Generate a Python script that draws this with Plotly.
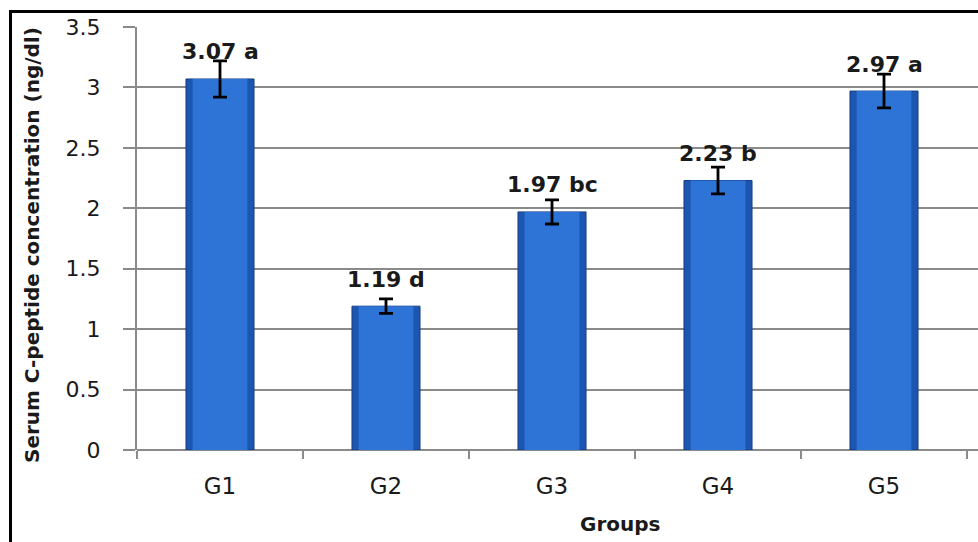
import plotly.graph_objects as go

# Serum C-peptide by treatment group
groups = ["G1", "G2", "G3", "G4", "G5"]
means = [3.07, 1.19, 1.97, 2.23, 2.97]
errors = [0.15, 0.06, 0.10, 0.11, 0.14]
letters = ["a", "d", "bc", "b", "a"]
y_ticks = [0, 0.5, 1, 1.5, 2, 2.5, 3, 3.5]
y_tick_text = ["0", "0.5", "1", "1.5", "2", "2.5", "3", "3.5"]

W, H = 978, 542
L, R, T, B = 137, 0, 27, 92
plot_w = W - L - R
plot_h = H - T - B

def px_x(p):
    return (p - L) / plot_w

def px_y(p):
    return (H - B - p) / plot_h

GRID = "#8a8a8a"
TXT = "#1a1a1a"

fig = go.Figure()

# outer bar body (darker rim)
fig.add_trace(go.Bar(
    x=groups, y=means, width=0.41,
    marker=dict(color="#1d56b0", line=dict(color="#173f80", width=1)),
    hoverinfo="skip", showlegend=False,
))
# lighter inner face
fig.add_trace(go.Bar(
    x=groups, y=means, width=0.33,
    marker=dict(color="#2e74d6", line=dict(width=0)),
    hoverinfo="skip", showlegend=False,
))
# error bars on top of the bars
fig.add_trace(go.Scatter(
    x=groups, y=means, mode="markers",
    marker=dict(size=1, color="rgba(0,0,0,0)"),
    error_y=dict(type="data", array=errors, color="#000000",
                 thickness=2.8, width=7),
    hoverinfo="skip", showlegend=False,
))

annotations = []
for g, v, s in zip(groups, means, letters):
    annotations.append(dict(
        x=g, y=v, xref="x", yref="y", text=f"{v:.2f} {s}",
        showarrow=False, yshift=27, xanchor="center", yanchor="middle",
        font=dict(family="DejaVu Sans", size=22, color=TXT, weight="bold"),
    ))

annotations.append(dict(
    x=px_x(32), y=px_y(245), xref="paper", yref="paper",
    xanchor="center", yanchor="middle",
    text="Serum C-peptide concentration (ng/dl)", textangle=-90,
    showarrow=False,
    font=dict(family="DejaVu Sans", size=20, color=TXT, weight="bold"),
))
annotations.append(dict(
    x=px_x(620), y=px_y(524), xref="paper", yref="paper",
    xanchor="center", yanchor="middle",
    text="Groups", showarrow=False,
    font=dict(family="DejaVu Sans", size=20, color=TXT, weight="bold"),
))

fig.update_layout(
    width=W, height=H,
    margin=dict(l=L, r=R, t=T, b=B, autoexpand=False),
    paper_bgcolor="white", plot_bgcolor="white",
    barmode="overlay",
    annotations=annotations,
    shapes=[
        dict(type="line", xref="paper", yref="paper",
             x0=px_x(10.5), x1=px_x(10.5), y0=px_y(11), y1=px_y(560),
             line=dict(color="black", width=3)),
        dict(type="line", xref="paper", yref="paper",
             x0=px_x(9), x1=px_x(990), y0=px_y(11.5), y1=px_y(11.5),
             line=dict(color="black", width=3)),
    ],
    xaxis=dict(
        range=[-0.5, -0.5 + plot_w / 166.0],
        tickson="boundaries", ticks="outside", ticklen=8,
        tickcolor=GRID, tickwidth=2,
        showgrid=False, showline=False, zeroline=False,
        tickfont=dict(family="DejaVu Sans", size=23, color=TXT),
        ticklabelstandoff=20,
    ),
    yaxis=dict(
        range=[0, 3.5], tickvals=y_ticks, ticktext=y_tick_text,
        ticks="outside", ticklen=12, tickcolor=GRID, tickwidth=2,
        showgrid=True, gridcolor=GRID, gridwidth=2,
        showline=True, linecolor=GRID, linewidth=2,
        zeroline=True, zerolinecolor=GRID, zerolinewidth=2,
        tickfont=dict(family="DejaVu Sans", size=22, color=TXT),
        ticklabelstandoff=18,
    ),
)

fig.write_html("out.html")
